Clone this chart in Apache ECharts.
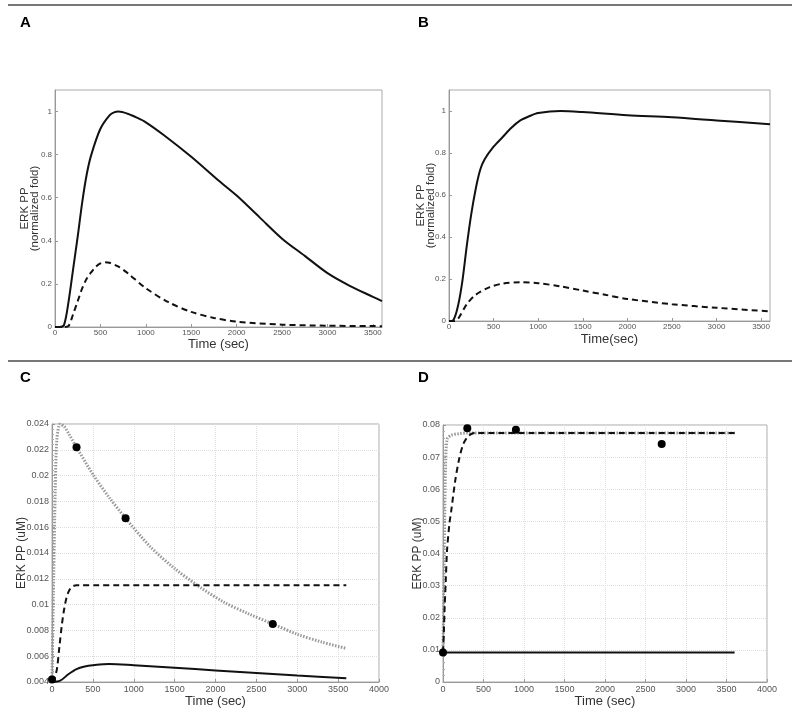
<!DOCTYPE html>
<html><head><meta charset="utf-8">
<script src="https://cdn.jsdelivr.net/npm/echarts@6/dist/echarts.min.js"></script>
<style>html,body{margin:0;padding:0;background:#fff}#c{width:800px;height:709px}</style>
</head><body><div id="c"></div>
<script>
// Panel A
const aSolidT = [0, 50, 100, 150, 200, 250, 300, 350, 400, 500, 600, 650, 700, 800, 900, 1000, 1200, 1500, 1800, 2000, 2250, 2500, 2750, 3000, 3250, 3500, 3600];
const aSolidV = [0, 0, 0.01, 0.12, 0.27, 0.42, 0.58, 0.71, 0.8, 0.92, 0.982, 0.996, 1.0, 0.99, 0.972, 0.95, 0.89, 0.79, 0.68, 0.61, 0.51, 0.41, 0.33, 0.25, 0.19, 0.14, 0.12];
const aDashT = [0, 100, 150, 200, 250, 300, 350, 400, 450, 500, 550, 600, 700, 800, 1000, 1250, 1500, 1750, 2000, 2500, 3000, 3600];
const aDashV = [0, 0, 0.005, 0.06, 0.12, 0.18, 0.225, 0.255, 0.28, 0.295, 0.3, 0.298, 0.28, 0.25, 0.18, 0.115, 0.07, 0.042, 0.025, 0.011, 0.006, 0.004];
// Panel B
const bSolidT = [0, 50, 100, 150, 200, 250, 300, 350, 400, 500, 600, 700, 800, 900, 1000, 1250, 1500, 2000, 2500, 3000, 3600];
const bSolidV = [0, 0.005, 0.07, 0.19, 0.36, 0.51, 0.63, 0.72, 0.77, 0.83, 0.875, 0.92, 0.955, 0.975, 0.99, 1.0, 0.995, 0.98, 0.97, 0.955, 0.937];
const bDashT = [0, 50, 100, 200, 300, 450, 600, 800, 1000, 1250, 1500, 1750, 2000, 2500, 3000, 3600];
const bDashV = [0, 0, 0.01, 0.08, 0.125, 0.16, 0.178, 0.185, 0.18, 0.165, 0.145, 0.125, 0.105, 0.08, 0.063, 0.046];
// Panel C
const cDotT = [0, 20, 40, 60, 100, 150, 200, 300, 500, 700, 900, 1200, 1500, 1800, 2100, 2400, 2700, 3000, 3300, 3600];
const cDotV = [0.0042, 0.012, 0.019, 0.0228, 0.024, 0.0238, 0.0233, 0.0222, 0.0201, 0.0183, 0.0167, 0.0145, 0.0128, 0.0114, 0.0102, 0.0093, 0.0085, 0.0077, 0.0071, 0.0066];
const cDashT = [0, 30, 60, 90, 120, 150, 180, 210, 250, 300, 3600];
const cDashV = [0.004, 0.0043, 0.005, 0.0067, 0.0084, 0.0097, 0.0106, 0.0111, 0.0114, 0.0115, 0.0115];
const cSolidT = [0, 100, 200, 300, 400, 500, 700, 1000, 1500, 2000, 2500, 3000, 3600];
const cSolidV = [0.004, 0.0041, 0.0046, 0.005, 0.0052, 0.0053, 0.0054, 0.0053, 0.0051, 0.0049, 0.0047, 0.0045, 0.0043];
const cPointT = [0, 300, 900, 2700];
const cPointV = [0.0042, 0.0222, 0.0167, 0.0085];
// Panel D
const dDotT = [0, 10, 20, 30, 50, 100, 200, 300, 3600];
const dDotV = [0.0093, 0.03, 0.05, 0.065, 0.0755, 0.0768, 0.0773, 0.0775, 0.0775];
const dDashT = [0, 10, 20, 35, 50, 80, 100, 150, 200, 250, 300, 350, 400, 3600];
const dDashV = [0.0093, 0.015, 0.023, 0.032, 0.041, 0.0495, 0.053, 0.0625, 0.0695, 0.074, 0.0762, 0.0772, 0.0775, 0.0775];
const dSolidT = [0, 3600];
const dSolidV = [0.0092, 0.0092];
const dPointT = [0, 300, 900, 2700];
const dPointV = [0.0092, 0.079, 0.0785, 0.0741];

const labels = ['A', 'B', 'C', 'D'];
const xTitles = ['Time (sec)', 'Time(sec)', 'Time (sec)', 'Time (sec)'];
const yTitles = ['ERK PP\n(normalized fold)', 'ERK PP\n(normalized fold)', 'ERK PP (uM)', 'ERK PP (uM)'];

const zip = (t, v) => t.map((x, i) => [x, v[i]]);
const FONT = 'Liberation Sans, Arial, sans-serif';
const grids = [
  {left: 55, top: 90, width: 327, height: 237},
  {left: 449, top: 90, width: 321, height: 231},
  {left: 52, top: 424, width: 327, height: 259},
  {left: 443, top: 425, width: 324, height: 258}
];
grids.forEach(g => { g.show = true; g.borderColor = '#aaa'; g.borderWidth = 1; g.backgroundColor = 'transparent'; });

const fmt = v => String(+(+v).toPrecision(6));
const labelSize = [8, 8, 9, 9];
const axisLine = {show: true, lineStyle: {color: '#999', width: 1}};
const tick = {show: true, inside: true, length: 3, lineStyle: {color: '#999'}};
const split = (show) => ({show: show, lineStyle: {color: '#ddd', type: 'dotted', width: 1}});

const xAxes = [
  {min: 0, max: 3600, interval: 500, g: false, gap: 11, m: 2},
  {min: 0, max: 3600, interval: 500, g: false, gap: 12, m: 2},
  {min: 0, max: 4000, interval: 500, g: true, gap: 13, m: 3},
  {min: 0, max: 4000, interval: 500, g: true, gap: 13, m: 3}
].map((a, i) => ({
  type: 'value', gridIndex: i, min: a.min, max: a.max, interval: a.interval,
  axisLabel: {color: '#555', fontSize: labelSize[i], fontFamily: FONT, formatter: fmt, showMaxLabel: a.max === 4000, margin: a.m},
  axisLine: axisLine, axisTick: tick, splitLine: split(a.g),
  name: xTitles[i], nameLocation: 'middle', nameGap: a.gap, nameMoveOverlap: false,
  nameTextStyle: {color: '#333', fontSize: 13, fontFamily: FONT, verticalAlign: 'top'}
}));
const yAxes = [
  {min: 0, max: 1.1, interval: 0.2, g: false, hideMax: true, gap: 15},
  {min: 0, max: 1.1, interval: 0.2, g: false, hideMax: true, gap: 13},
  {min: 0.004, max: 0.024, interval: 0.002, g: true, hideMax: false, gap: 25},
  {min: 0, max: 0.08, interval: 0.01, g: true, hideMax: false, gap: 20}
].map((a, i) => ({
  type: 'value', gridIndex: i, min: a.min, max: a.max, interval: a.interval,
  axisLabel: {color: '#555', fontSize: labelSize[i], fontFamily: FONT, formatter: fmt, showMaxLabel: !a.hideMax, margin: 3},
  axisLine: axisLine, axisTick: tick, splitLine: split(a.g),
  minorTick: {show: i >= 2, splitNumber: 5, length: 2, lineStyle: {color: '#aaa'}},
  name: yTitles[i], nameLocation: 'middle', nameGap: a.gap, nameRotate: 90, nameMoveOverlap: false,
  nameTextStyle: {color: '#333', fontSize: i < 2 ? 11.5 : 12, fontFamily: FONT, lineHeight: 10}
}));

const solid = (i, d) => ({type: 'line', xAxisIndex: i, yAxisIndex: i, data: d, showSymbol: false, smooth: 0.3,
  lineStyle: {color: '#111', width: 2}, silent: true, z: 3});
const dashed = (i, d) => ({type: 'line', xAxisIndex: i, yAxisIndex: i, data: d, showSymbol: false, smooth: 0.3,
  lineStyle: {color: '#111', width: 2, type: [6, 4]}, silent: true, z: 3});
const dotted = (i, d) => ({type: 'line', xAxisIndex: i, yAxisIndex: i, data: d, showSymbol: false, smooth: 0.3,
  lineStyle: {color: '#999', width: 3, type: [1.5, 1.5]}, silent: true, z: 2});
const pts = (i, d) => ({type: 'scatter', xAxisIndex: i, yAxisIndex: i, data: d, symbolSize: 8,
  itemStyle: {color: '#000', opacity: 1}, silent: true, clip: false, z: 10});

const series = [
  solid(0, zip(aSolidT, aSolidV)), dashed(0, zip(aDashT, aDashV)),
  solid(1, zip(bSolidT, bSolidV)), dashed(1, zip(bDashT, bDashV)),
  dotted(2, zip(cDotT, cDotV)), dashed(2, zip(cDashT, cDashV)), solid(2, zip(cSolidT, cSolidV)), pts(2, zip(cPointT, cPointV)),
  dotted(3, zip(dDotT, dDotV)), dashed(3, zip(dDashT, dDashV)), solid(3, zip(dSolidT, dSolidV)), pts(3, zip(dPointT, dPointV))
];

const letterPos = [[20, 23], [418, 23], [20, 378], [418, 378]];
const graphic = [
  {type: 'line', shape: {x1: 8, y1: 5, x2: 792, y2: 5}, style: {stroke: '#777', lineWidth: 2}},
  {type: 'line', shape: {x1: 8, y1: 361, x2: 792, y2: 361}, style: {stroke: '#777', lineWidth: 2}}
].concat(labels.map((l, i) => ({type: 'text', x: letterPos[i][0], y: letterPos[i][1],
  style: {text: l, fill: '#000', font: 'bold 15px ' + FONT, textVerticalAlign: 'middle'}})));

const chart = echarts.init(document.getElementById('c'), null, {renderer: 'canvas'});
chart.setOption({animation: false, backgroundColor: '#fff', grid: grids, xAxis: xAxes, yAxis: yAxes, series: series, graphic: graphic});
</script></body></html>
